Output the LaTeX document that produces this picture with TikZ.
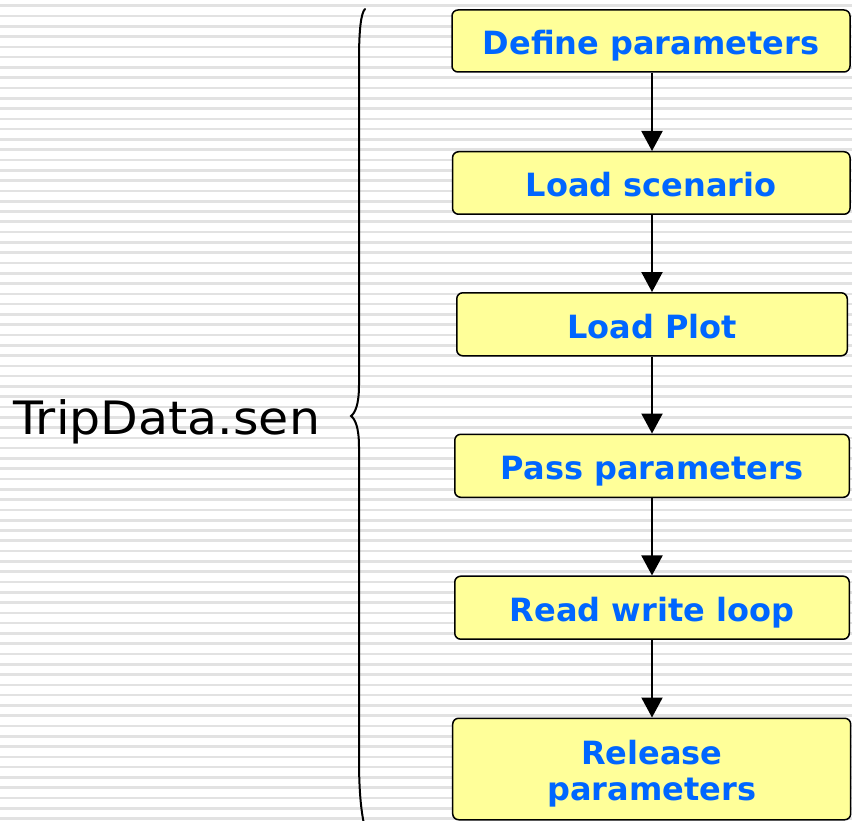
\documentclass[tikz,border=0pt]{standalone}
\usepackage{fontspec}
\setmainfont{DejaVu Sans}
\usetikzlibrary{arrows.meta}
\definecolor{stripe}{RGB}{226,226,226}
\definecolor{boxfill}{RGB}{255,255,153}
\definecolor{boxtext}{RGB}{0,102,255}
\tikzset{
  stepbox/.style={draw=black, line width=1.5pt, fill=boxfill, rounded corners=6pt,
    inner sep=0pt, align=center, text=boxtext,
    font=\fontsize{32}{36}\selectfont\bfseries},
  oneline/.style={text height=30pt, text depth=2pt},
  flowarrow/.style={draw=black, line width=2pt, -{Triangle[width=21pt,length=20pt]}},
  bracestyle/.style={draw=black, line width=2pt, line cap=round},
}
\begin{document}
\begin{tikzpicture}[x=1pt, y=-1pt]
\useasboundingbox (0,0) rectangle (852,821);
% striped background
\foreach \k in {0,...,79} {
  \draw[stripe, line width=2.6pt] (0,{5.7+10.29*\k}) -- (852,{5.7+10.29*\k});
}
% boxes
\node[stepbox, oneline, minimum width=398pt, minimum height=62pt] (b1) at (651,41) {Define parameters};
\node[stepbox, oneline, minimum width=397.5pt, minimum height=62.5pt] (b2) at (651.3,183) {Load scenario};
\node[stepbox, oneline, minimum width=390.5pt, minimum height=63pt] (b3) at (652,324.3) {Load Plot};
\node[stepbox, oneline, minimum width=394.5pt, minimum height=63pt] (b4) at (652,465.8) {Pass parameters};
\node[stepbox, oneline, minimum width=394.5pt, minimum height=63pt] (b5) at (652,607.7) {Read write loop};
\node[stepbox, minimum width=398pt, minimum height=101.5pt] (b6) at (651.7,769) {\rule{0pt}{33pt}Release\\parameters};
% arrows
\draw[flowarrow] (b1.south -| 652,0) -- (b2.north -| 652,0);
\draw[flowarrow] (b2.south -| 652,0) -- (b3.north -| 652,0);
\draw[flowarrow] (b3.south -| 652,0) -- (b4.north -| 652,0);
\draw[flowarrow] (b4.south -| 652,0) -- (b5.north -| 652,0);
\draw[flowarrow] (b5.south -| 652,0) -- (b6.north -| 652,0);
% brace
\draw[bracestyle] (365,9) .. controls (361,13) and (359,30) .. (359,60)
  -- (359,385) .. controls (359,405) and (355,413) .. (351,416)
  .. controls (355,419) and (359,427) .. (359,447)
  -- (359,760) .. controls (359,790) and (361,810) .. (364,824);
% label
\node[anchor=base west, inner sep=0pt, text=black, font=\fontsize{46}{50}\selectfont] (lbl) at (13,434) {\scalebox{1.065}[1]{TripData.sen}};
\end{tikzpicture}
\end{document}
